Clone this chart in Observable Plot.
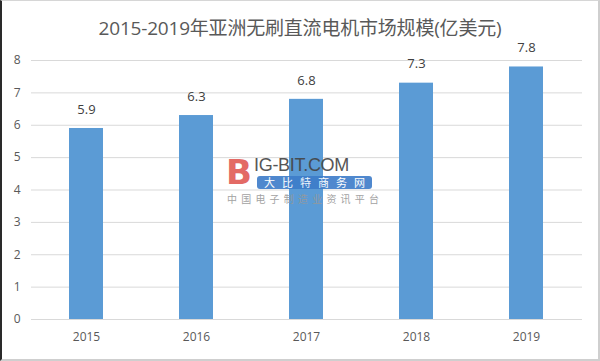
<!DOCTYPE html>
<html>
<head>
<meta charset="utf-8">
<script src="https://cdn.jsdelivr.net/npm/d3@7"></script>
<script src="https://cdn.jsdelivr.net/npm/@observablehq/plot@0.6"></script>
<style>
  html, body { margin: 0; padding: 0; background: #fff; }
  #wrap { position: relative; width: 600px; height: 361px; overflow: hidden; background: #fff;
    font-family: "Open Sans", "Noto Sans CJK SC", sans-serif; }
  #title { position: absolute; left: 0; top: 13px; width: 600px; text-align: center;
    font-size: 19px; color: #595959; font-family: "Open Sans", "Noto Sans CJK SC", sans-serif; letter-spacing: -0.2px; }
  #frame { position: absolute; left: 0; top: 0; width: 600px; height: 361px; box-sizing: border-box;
    border-left: 2px solid #2a2a2a; border-top: 1px solid #d6d6d6; border-right: 2px solid #cfcfcf; border-bottom: 2px solid #cfcfcf; pointer-events: none; }
  #wm { position: absolute; left: 226px; top: 155px; width: 150px; height: 52px; opacity: 0.9; pointer-events: none; }
  #wm .b { position: absolute; left: 0; top: 0; font: bold 34px "DejaVu Sans", sans-serif; color: #e05a55; line-height: 34px; }
  #wm .t { position: absolute; left: 28px; top: 2px; font: 18px "Liberation Sans", sans-serif; color: #444; line-height: 17px; letter-spacing: -0.3px; }
  #wm .box { position: absolute; left: 31px; top: 21px; width: 115px; height: 13px; background: #3d7cc9; border-radius: 3px;
    color: #fff; font: 11px "Noto Sans CJK SC", sans-serif; line-height: 13px; letter-spacing: 7px; text-indent: 7px; }
  #wm .s { position: absolute; left: 1px; top: 38px; font: 10px "Noto Sans CJK SC", sans-serif; color: #999; line-height: 12px; letter-spacing: 4.2px; white-space: nowrap; }
</style>
</head>
<body>
<div id="wrap">
  <div id="chart"></div>
  <div id="title"></div>
  <div id="wm"><div class="b">B</div><div class="t">IG-BIT.COM</div><div class="box">大比特商务网</div><div class="s">中国电子制造业资讯平台</div></div>
  <div id="frame"></div>
</div>
<script>
const titleText = "2015-2019年亚洲无刷直流电机市场规模(亿美元)";
const years = ["2015", "2016", "2017", "2018", "2019"];
const values = [5.9, 6.3, 6.8, 7.3, 7.8];
const yTicks = [0, 1, 2, 3, 4, 5, 6, 7, 8];

document.getElementById("title").textContent = titleText;
const data = years.map((y, i) => ({year: y, value: values[i]}));

const chart = Plot.plot({
  width: 600,
  height: 361,
  marginTop: 60,
  marginBottom: 42,
  marginLeft: 31,
  marginRight: 18,
  style: {fontFamily: "'Open Sans', sans-serif", fontSize: "12px", color: "#595959", background: "transparent"},
  x: {domain: years, paddingInner: 0.69, paddingOuter: 0.345, label: null},
  y: {domain: [0, 8], label: null},
  marks: [
    Plot.gridY(yTicks, {stroke: "#d9d9d9", strokeOpacity: 1, strokeWidth: 1}),
    Plot.axisY({ticks: yTicks, tickSize: 0, tickPadding: 11, fill: "#595959", fontSize: 12, label: null}),
    Plot.axisX({tickSize: 0, tickPadding: 13, fill: "#595959", fontSize: 12, label: null}),
    Plot.barY(data, {x: "year", y: "value", fill: "#5b9bd5"}),
    Plot.text(data, {x: "year", y: "value", text: d => d.value.toFixed(1), dy: -19, fill: "#404040", fontSize: 13})
  ]
});
document.getElementById("chart").appendChild(chart);
</script>
</body>
</html>
